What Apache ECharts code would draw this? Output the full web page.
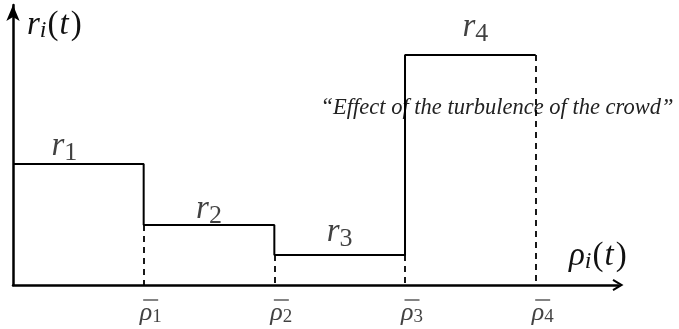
<!DOCTYPE html>
<html><head><meta charset="utf-8">
<script src="https://cdn.jsdelivr.net/npm/echarts@6/dist/echarts.min.js"></script>
<style>html,body{margin:0;padding:0;background:#fff}#c{width:679px;height:329px}</style>
</head><body><div id="c"></div>
<script>
// Breakpoints of the piecewise-constant function (rho-bar positions)
const breakpoints = [0, 1, 2, 3, 4];
// Constant levels r1..r4 on each interval
const levels = [121, 60, 30, 230];
// Subscripts for level labels and tick labels
const levelSubs = ['1', '2', '3', '4'];
const tickSubs = ['1', '2', '3', '4'];
const annotation = '\u201CEffect of the turbulence of the crowd\u201D';

const SERIF = 'Liberation Serif';

// step data
const stepData = levels.map((v, i) => [breakpoints[i], v]);
stepData.push([breakpoints[levels.length], levels[levels.length - 1]]);

// dashed drops from each breakpoint down to the axis
const dashLines = [];
for (let i = 1; i < breakpoints.length; i++) {
  const left = levels[i - 1];
  const right = i < levels.length ? levels[i] : left;
  dashLines.push([{ coord: [breakpoints[i], Math.min(left, right)] }, { coord: [breakpoints[i], 0] }]);
}

const labelOffsets = [[-14, -18], [0, -16], [0, -23], [5, -28]];
const levelLabelData = levels.map((v, i) => ({
  value: [(breakpoints[i] + breakpoints[i + 1]) / 2, v],
  label: {
    show: true, position: 'inside', offset: labelOffsets[i],
    formatter: '{r|r}{s|' + levelSubs[i] + '}'
  }
}));

const tickLabelData = tickSubs.map((s, i) => ({
  value: [breakpoints[i + 1], 0],
  label: { show: true, position: 'inside', offset: [7, 26], formatter: '{bar| }\n{p|\u03C1}{s|' + s + '}' }
}));

const richLevel = {
  r: { fontFamily: SERIF, fontStyle: 'italic', fontSize: 33, color: '#111', lineHeight: 32 },
  s: { fontFamily: SERIF, fontSize: 26, color: '#111', lineHeight: 32, padding: [14, 0, 0, 0] }
};
const richTick = {
  bar: { width: 15, height: 1.5, lineHeight: 4, backgroundColor: '#333', fontSize: 2 },
  p: { fontFamily: SERIF, fontStyle: 'italic', fontSize: 26, color: '#111', lineHeight: 22 },
  s: { fontFamily: SERIF, fontSize: 19, color: '#111', lineHeight: 22, padding: [8, 0, 0, 0] }
};

const nameRich = {
  r: { fontFamily: SERIF, fontStyle: 'italic', fontSize: 33, fill: '#111', lineHeight: 34 },
  s: { fontFamily: SERIF, fontStyle: 'italic', fontSize: 24, fill: '#111', lineHeight: 34, padding: [12, 1, 0, 0] },
  n: { fontFamily: SERIF, fontSize: 33, fill: '#111', lineHeight: 34 },
  t: { fontFamily: SERIF, fontStyle: 'italic', fontSize: 33, fill: '#111', lineHeight: 34, padding: [0, 2, 0, 1] }
};

const chevron = 'path://M0,10 L6,0 L12,10 L10.2,11 L6,4 L1.8,11 Z';

const chart = echarts.init(document.getElementById('c'), null, { renderer: 'canvas' });
chart.setOption({
  animation: false,
  backgroundColor: '#fff',
  textStyle: { fontFamily: SERIF },
  grid: { left: 13, right: 61, top: 5, bottom: 44 },
  xAxis: {
    type: 'value', min: 0, max: 4.63,
    axisLine: { show: true, lineStyle: { color: '#000', width: 2.5 }, symbol: ['none', chevron], symbolSize: [14, 11], symbolOffset: [0, 0] },
    axisTick: { show: false }, axisLabel: { show: false }, splitLine: { show: false }
  },
  yAxis: {
    type: 'value', min: 0, max: 280,
    axisLine: { show: true, lineStyle: { color: '#000', width: 2.5 }, symbol: ['none', 'arrow'], symbolSize: [10, 16] },
    axisTick: { show: false }, axisLabel: { show: false }, splitLine: { show: false }
  },
  series: [
    {
      type: 'line', step: 'end', data: stepData, symbol: 'none',
      lineStyle: { color: '#000', width: 2 },
      markLine: {
        silent: true, symbol: 'none', label: { show: false },
        lineStyle: { color: '#000', width: 1.8, type: [6, 5] },
        data: dashLines
      }
    },
    {
      type: 'scatter', data: levelLabelData, symbolSize: 0,
      label: { fontFamily: SERIF, rich: richLevel }
    },
    {
      type: 'scatter', data: tickLabelData, symbolSize: 0, clip: false,
      label: { fontFamily: SERIF, align: 'center', rich: richTick }
    }
  ],
  graphic: [
    {
      type: 'text', left: 27, top: 7,
      style: { fontFamily: SERIF, rich: nameRich, text: '{r|r}{s|i}{n|(}{t|t}{n|)}' }
    },
    {
      type: 'text', left: 569, top: 238,
      style: { fontFamily: SERIF, rich: nameRich, text: '{r|\u03C1}{s|i}{n|(}{t|t}{n|)}' }
    },
    {
      type: 'text', x: 497, y: 108,
      style: { text: annotation, fontFamily: SERIF, fontStyle: 'italic', fontSize: 22.5, fill: '#222', align: 'center', verticalAlign: 'middle' }
    }
  ]
});
</script></body></html>
